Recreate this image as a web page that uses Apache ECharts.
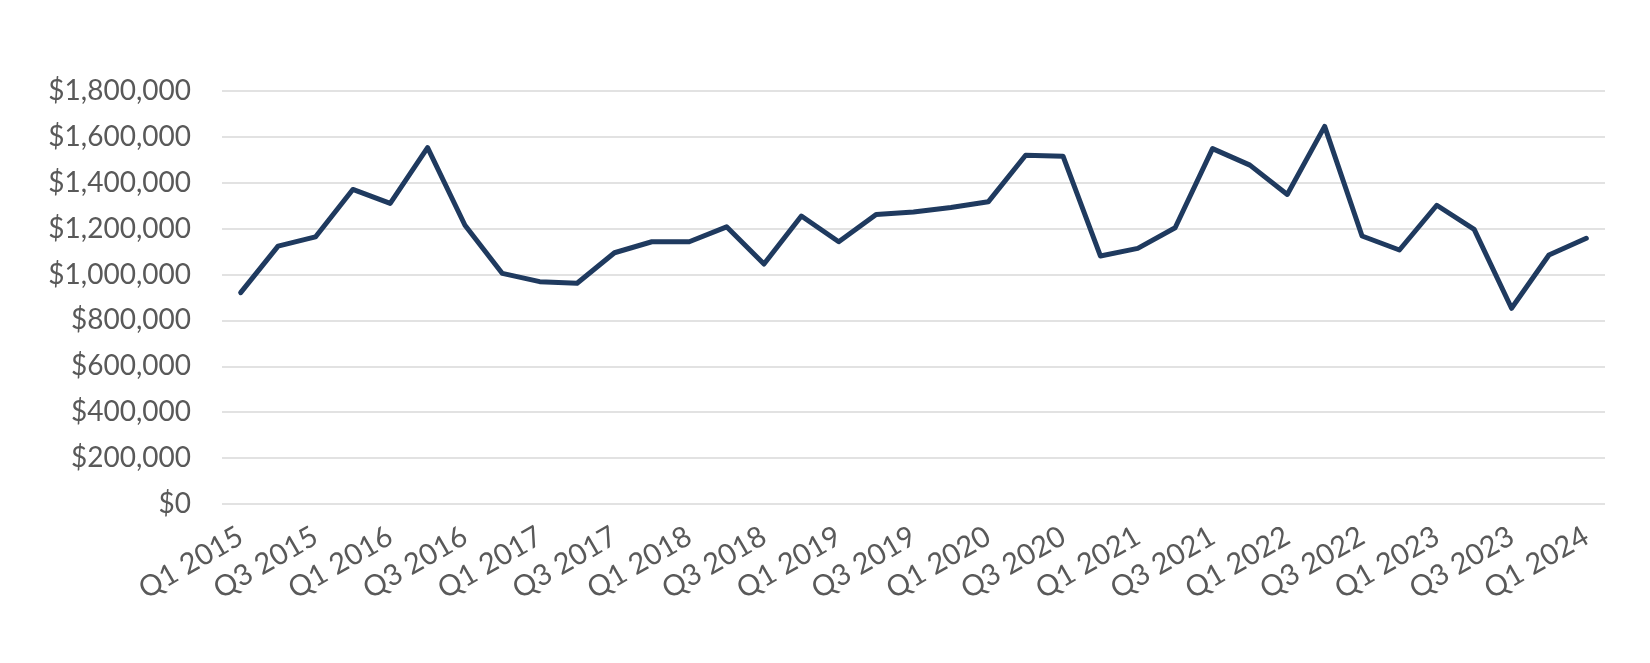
<!DOCTYPE html>
<html>
<head>
<meta charset="utf-8">
<script src="https://cdn.jsdelivr.net/npm/echarts@6/dist/echarts.min.js"></script>
<style>
  html, body { margin: 0; padding: 0; background: #fff; }
  #chart { width: 1650px; height: 663px; }
</style>
</head>
<body>
<div id="chart"></div>
<script>
// quarters Q1 2015 .. Q1 2024
const quarters = [];
for (let y = 2015; y <= 2024; y++) {
  for (let q = 1; q <= 4; q++) {
    if (y === 2024 && q > 1) break;
    quarters.push('Q' + q + ' ' + y);
  }
}

// values
const medianPrice = [
  921000, 1124000, 1164000, 1371000, 1310000, 1553000, 1215000, 1005000,
  969000, 962000, 1095000, 1143000, 1143000, 1208000, 1046000, 1255000,
  1143000, 1262000, 1273000, 1292000, 1317000, 1520000, 1516000, 1081000,
  1114000, 1204000, 1549000, 1477000, 1349000, 1646000, 1168000, 1107000,
  1302000, 1197000, 853000, 1085000, 1158000
];

const yMin = 0;
const yMax = 1800000;
const yStep = 200000;

const textColor = '#595959';
const lineColor = '#1f3a5f';
const gridColor = '#d9d9d9';
const fontFamily = 'Lato, "Open Sans", sans-serif';

const fmtMoney = (v) => '$' + v.toLocaleString('en-US');

const chart = echarts.init(document.getElementById('chart'));

const option = {
  backgroundColor: '#fff',
  animation: false,
  grid: {
    left: 222,
    right: 45,
    top: 91,
    bottom: 159,
    containLabel: false
  },
  xAxis: {
    type: 'category',
    boundaryGap: true,
    data: quarters,
    axisLine: { show: false },
    axisTick: { show: false },
    axisLabel: {
      interval: 1,
      rotate: 30,
      margin: 30,
      color: textColor,
      fontSize: 29,
      fontFamily: fontFamily
    },
    splitLine: { show: false }
  },
  yAxis: {
    type: 'value',
    min: yMin,
    max: yMax,
    interval: yStep,
    axisLine: { show: false },
    axisTick: { show: false },
    axisLabel: {
      margin: 31,
      color: textColor,
      fontSize: 28,
      fontFamily: fontFamily,
      formatter: fmtMoney
    },
    splitLine: {
      show: true,
      lineStyle: { color: gridColor, width: 1.5 }
    }
  },
  series: [
    {
      name: 'Median Price',
      type: 'line',
      data: medianPrice,
      showSymbol: false,
      smooth: false,
      lineStyle: { color: lineColor, width: 5, cap: 'round', join: 'round' }
    }
  ]
};

chart.setOption(option);
</script>
</body>
</html>
